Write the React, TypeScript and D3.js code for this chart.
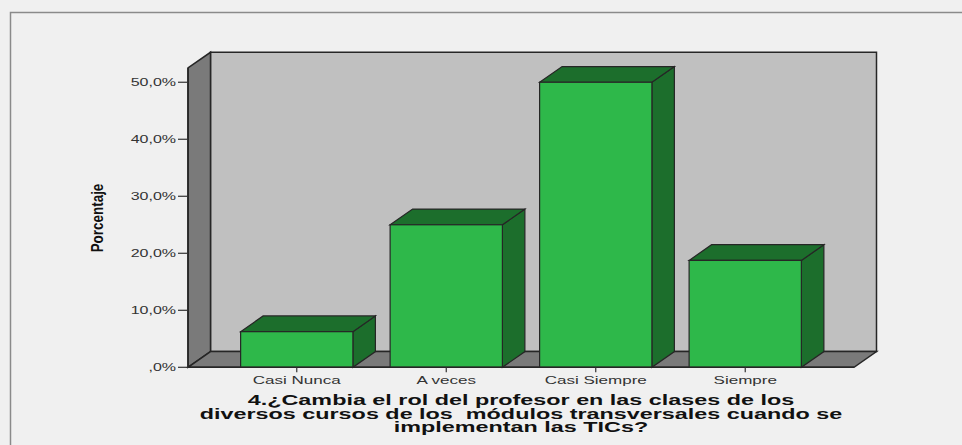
import React, { useEffect, useRef } from 'react';
import * as d3 from 'd3';

const categories = ['Casi Nunca', 'A veces', 'Casi Siempre', 'Siempre'];
const percentages = [6.25, 25.0, 50.0, 18.75];
const yTicks = [0, 10, 20, 30, 40, 50];
const yTickLabels = [',0%', '10,0%', '20,0%', '30,0%', '40,0%', '50,0%'];
const titleLines = [
  '4.¿Cambia el rol del profesor en las clases de los',
  'diversos cursos de los  módulos transversales cuando se',
  'implementan las TICs?',
];

const App = () => {
  const ref = useRef<SVGSVGElement | null>(null);

  useEffect(() => {
    const svg = d3.select(ref.current);
    svg.selectAll('*').remove();

    const width = 962;
    const height = 445;
    const x0 = 188;
    const x1 = 854;
    const dx = 22.5;
    const dy = -15.7;
    const sx = 1.6; // text in the picture is stretched horizontally
    const font = '"Liberation Sans", Arial, sans-serif';
    const edge = '#262626';

    const y = d3.scaleLinear().domain([0, 52.5]).range([367.3, 68]);
    const x = d3.scaleBand<string>()
      .domain(categories)
      .range([x0, x1])
      .paddingInner(0.249)
      .paddingOuter(0.352);

    const y0 = y(0);
    const yTop = y(52.5);

    // background + frame
    svg.append('rect').attr('width', width).attr('height', height).attr('fill', '#f0f0f0');
    svg.append('rect')
      .attr('x', 10.5).attr('y', 12.5)
      .attr('width', width).attr('height', height)
      .attr('fill', 'none').attr('stroke', '#8a8a8a').attr('stroke-width', 1.5);

    const poly = (pts: [number, number][]) => 'M' + pts.map(p => p.join(',')).join('L') + 'Z';

    // back wall
    svg.append('path')
      .attr('d', poly([[x0 + dx, yTop + dy], [x1 + dx, yTop + dy], [x1 + dx, y0 + dy], [x0 + dx, y0 + dy]]))
      .attr('fill', '#c0c0c0').attr('stroke', edge).attr('stroke-width', 1.5);

    // left wall
    svg.append('path')
      .attr('d', poly([[x0, y0], [x0, yTop], [x0 + dx, yTop + dy], [x0 + dx, y0 + dy]]))
      .attr('fill', '#7a7a7a').attr('stroke', edge).attr('stroke-width', 1.5);

    // floor
    svg.append('path')
      .attr('d', poly([[x0, y0], [x1, y0], [x1 + dx, y0 + dy], [x0 + dx, y0 + dy]]))
      .attr('fill', '#7a7a7a').attr('stroke', edge).attr('stroke-width', 1.5);

    // bars
    const bw = x.bandwidth();
    const bars = svg.selectAll('g.bar')
      .data(categories.map((c, i) => ({ c, v: percentages[i] })))
      .enter()
      .append('g')
      .attr('class', 'bar');

    bars.append('path')
      .attr('d', d => {
        const bx = x(d.c)! + bw;
        const by = y(d.v);
        return poly([[bx, by], [bx + dx, by + dy], [bx + dx, y0 + dy], [bx, y0]]);
      })
      .attr('fill', '#1c6e2c').attr('stroke', edge).attr('stroke-width', 1.2);

    bars.append('path')
      .attr('d', d => {
        const bx = x(d.c)!;
        const by = y(d.v);
        return poly([[bx, by], [bx + dx, by + dy], [bx + bw + dx, by + dy], [bx + bw, by]]);
      })
      .attr('fill', '#1c6e2c').attr('stroke', edge).attr('stroke-width', 1.2);

    bars.append('rect')
      .attr('x', d => x(d.c)!)
      .attr('y', d => y(d.v))
      .attr('width', bw)
      .attr('height', d => y0 - y(d.v))
      .attr('fill', '#2eb84a').attr('stroke', edge).attr('stroke-width', 1.2);

    // y axis ticks and labels
    svg.append('line')
      .attr('x1', x0).attr('x2', x0).attr('y1', y0).attr('y2', yTop)
      .attr('stroke', edge).attr('stroke-width', 1.5);
    yTicks.forEach((t, i) => {
      svg.append('line')
        .attr('x1', x0 - 10).attr('x2', x0).attr('y1', y(t)).attr('y2', y(t))
        .attr('stroke', '#333').attr('stroke-width', 1.2);
      svg.append('text')
        .attr('transform', `translate(176,${y(t) + 3.6}) scale(${sx},1)`)
        .attr('text-anchor', 'end')
        .attr('font-family', font).attr('font-size', 10)
        .attr('fill', '#333')
        .text(yTickLabels[i]);
    });

    // x axis line, ticks and labels
    svg.append('line')
      .attr('x1', x0).attr('x2', x1).attr('y1', y0).attr('y2', y0)
      .attr('stroke', edge).attr('stroke-width', 1.5);
    categories.forEach(c => {
      const cx = x(c)! + bw / 2;
      svg.append('line')
        .attr('x1', cx).attr('x2', cx).attr('y1', y0).attr('y2', y0 + 5)
        .attr('stroke', '#333').attr('stroke-width', 1.2);
      svg.append('text')
        .attr('transform', `translate(${cx},384) scale(1.55,1)`)
        .attr('text-anchor', 'middle')
        .attr('font-family', font).attr('font-size', 11)
        .attr('fill', '#333')
        .text(c);
    });

    // y axis title
    svg.append('text')
      .attr('transform', 'translate(103,218) rotate(-90) scale(0.96,1.12)')
      .attr('text-anchor', 'middle')
      .attr('font-family', font).attr('font-size', 14).attr('font-weight', 'bold')
      .attr('fill', '#111')
      .text('Porcentaje');

    // x axis title
    titleLines.forEach((line, i) => {
      svg.append('text')
        .attr('transform', `translate(521,${405 + i * 13.5}) scale(1.67,1)`)
        .attr('text-anchor', 'middle')
        .attr('font-family', font).attr('font-size', 14).attr('font-weight', 'bold')
        .attr('fill', '#111')
        .style('white-space', 'pre')
        .text(line);
    });
  }, []);

  return (
    <svg
      ref={ref}
      width={962}
      height={445}
      style={{ position: 'absolute', left: 0, top: 0, display: 'block' }}
    />
  );
};

export default App;
